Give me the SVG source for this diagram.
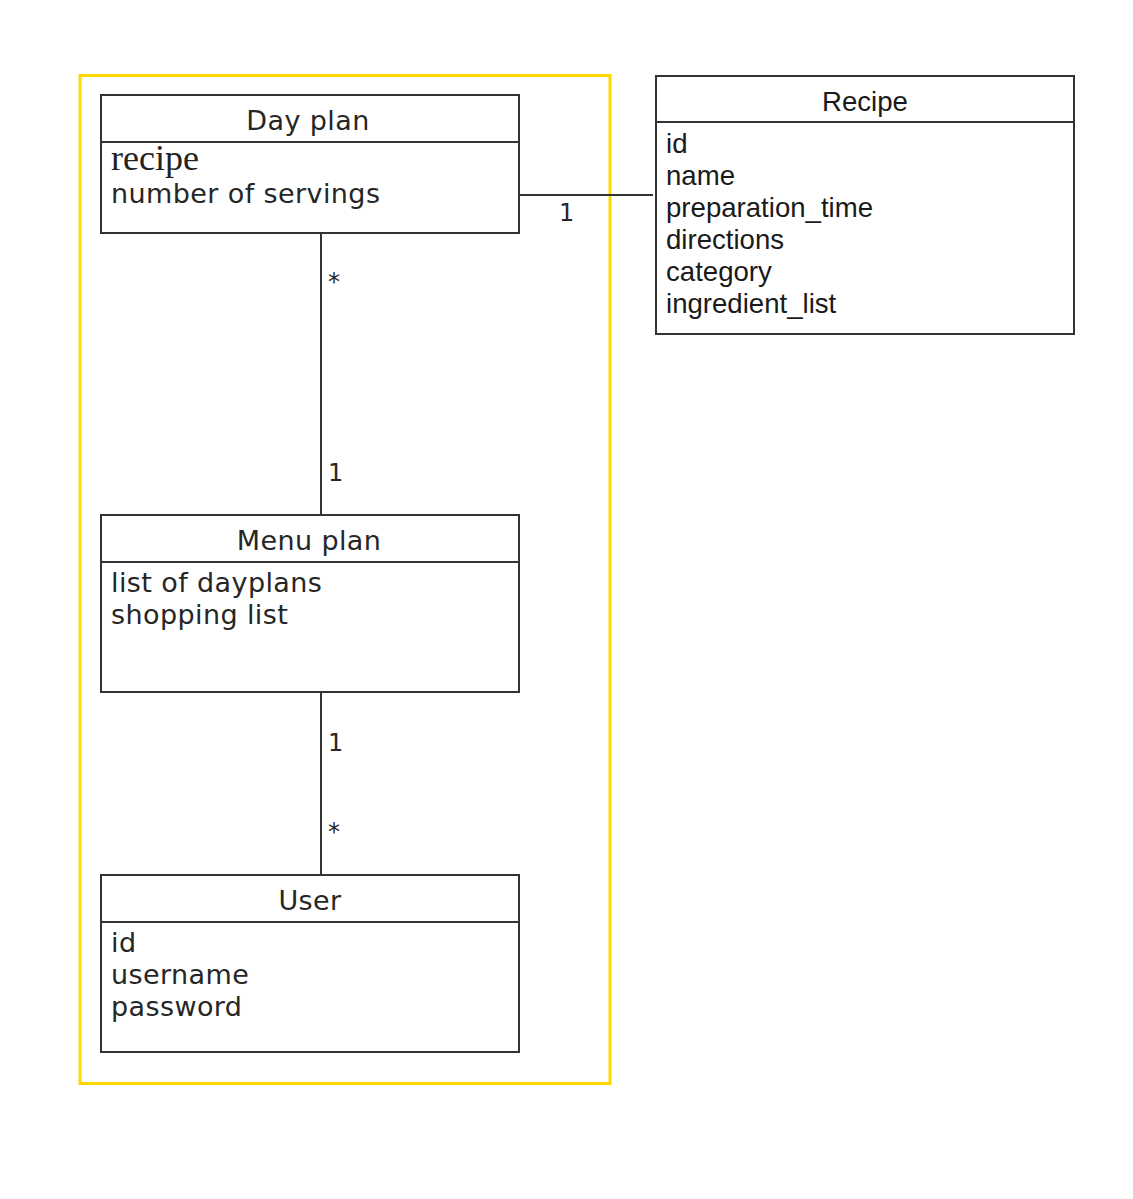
<svg xmlns="http://www.w3.org/2000/svg" width="1133" height="1199" viewBox="0 0 1133 1199">
<style>
.box{fill:#fff;stroke:#333;stroke-width:2}
.sep{stroke:#333;stroke-width:2}
.dv{font-family:"DejaVu Sans",sans-serif;font-size:27px;letter-spacing:0.4px;fill:#262626}
.ar{font-family:"Liberation Sans",Arial,sans-serif;font-size:27.6px;fill:#1a1a1a}
.hd{text-anchor:middle}
.conn{stroke:#333;stroke-width:2;fill:none}
.lbl{font-family:"DejaVu Sans",sans-serif;font-size:24px;fill:#262626}
</style>
<rect x="0" y="0" width="1133" height="1199" fill="#fff"/>
<rect id="boundary" x="80" y="75.5" width="530" height="1008" fill="none" stroke="#FFD700" stroke-width="3"/>
<g id="connectors">
<line class="conn" x1="519" y1="195" x2="653" y2="195"/>
<line class="conn" x1="321" y1="233" x2="321" y2="515"/>
<line class="conn" x1="321" y1="692" x2="321" y2="875"/>
<text class="lbl" x="559" y="221">1</text>
<text class="lbl" x="328" y="290">*</text>
<text class="lbl" x="328" y="481">1</text>
<text class="lbl" x="328" y="751">1</text>
<text class="lbl" x="328" y="840">*</text>
</g>
<g id="dayplan">
<rect class="box" x="101" y="95" width="418" height="138"/>
<line class="sep" x1="101" y1="142" x2="519" y2="142"/>
<text class="dv hd" x="308" y="130">Day plan</text>
<text x="111" y="170" font-family="Liberation Serif,'Times New Roman',serif" font-size="36" fill="#222">recipe</text>
<text class="dv" x="111" y="203">number of servings</text>
</g>
<g id="menuplan">
<rect class="box" x="101" y="515" width="418" height="177"/>
<line class="sep" x1="101" y1="562" x2="519" y2="562"/>
<text class="dv hd" x="309" y="550">Menu plan</text>
<text class="dv" x="111" y="592">list of dayplans</text>
<text class="dv" x="111" y="624">shopping list</text>
</g>
<g id="user">
<rect class="box" x="101" y="875" width="418" height="177"/>
<line class="sep" x1="101" y1="922" x2="519" y2="922"/>
<text class="dv hd" x="310" y="910">User</text>
<text class="dv" x="111" y="952">id</text>
<text class="dv" x="111" y="984">username</text>
<text class="dv" x="111" y="1016">password</text>
</g>
<g id="recipe">
<rect class="box" x="656" y="76" width="418" height="258"/>
<line class="sep" x1="656" y1="122" x2="1074" y2="122"/>
<text class="ar hd" x="865" y="111">Recipe</text>
<text class="ar" x="666" y="153">id</text>
<text class="ar" x="666" y="185">name</text>
<text class="ar" x="666" y="217">preparation_time</text>
<text class="ar" x="666" y="249">directions</text>
<text class="ar" x="666" y="281">category</text>
<text class="ar" x="666" y="313">ingredient_list</text>
</g>
</svg>
